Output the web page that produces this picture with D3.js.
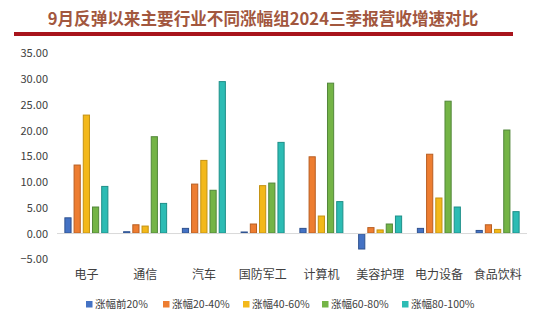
<!DOCTYPE html>
<html><head><meta charset="utf-8">
<script src="https://cdn.jsdelivr.net/npm/d3@7"></script>
<style>body{margin:0;background:#fff}svg{display:block;font-family:"Noto Sans CJK SC","Noto Sans",sans-serif}</style>
</head><body><svg id="c" width="550" height="321"></svg>
<script>
const title = "9月反弹以来主要行业不同涨幅组2024三季报营收增速对比";
const categories = ["电子","通信","汽车","国防军工","计算机","美容护理","电力设备","食品饮料"];
const seriesNames = ["涨幅前20%","涨幅20-40%","涨幅40-60%","涨幅60-80%","涨幅80-100%"];
const s1 = [3.15, 0.45, 1.1, 0.4, 1.1, -3.1, 1.1, 0.7];
const s2 = [13.4, 1.8, 9.7, 1.95, 15.0, 1.25, 15.5, 1.8];
const s3 = [23.1, 1.55, 14.3, 9.4, 3.5, 0.8, 7.0, 0.9];
const s4 = [5.25, 18.9, 8.5, 9.9, 29.3, 1.95, 25.8, 20.2];
const s5 = [9.25, 5.95, 29.6, 17.8, 6.3, 3.5, 5.25, 4.35];
const yTicks = [-5,0,5,10,15,20,25,30,35];
const colors = ["#4472c4","#ed7d31","#f3b81a","#74b446","#2cbcb4"];
const strokes = ["#2f528f","#b85e22","#c49212","#52873a","#1e8f89"];
const seriesVals = [s1,s2,s3,s4,s5];

const svg = d3.select("#c");
svg.append("text").attr("x",263).attr("y",25).attr("text-anchor","middle")
  .attr("font-size",16.6).attr("font-weight","bold").attr("fill","#a2573e").text(title);
svg.append("rect").attr("x",14).attr("y",32).attr("width",499).attr("height",4).attr("fill","#a8141c");

const x = d3.scaleBand().domain(categories).range([57,527]).padding(0);
const xs = d3.scaleBand().domain(d3.range(5)).range([0,44]).paddingInner(0.22);
const y = d3.scaleLinear().domain([-5,35]).range([259.3,53.3]);

const ya = svg.append("g").attr("transform","translate(48,0)")
  .call(d3.axisLeft(y).tickValues(yTicks).tickFormat(d3.format(".2f")).tickSize(0).tickPadding(0));
ya.select(".domain").remove();
ya.selectAll("text").attr("font-size",11).attr("fill","#404040").attr("font-family","\"Noto Sans CJK SC\",sans-serif");

categories.forEach((c,i)=>{
  const g = svg.append("g").attr("transform",`translate(${x(c)+x.bandwidth()/2-22},0)`);
  seriesVals.forEach((vals,k)=>{
    const v = vals[i];
    g.append("rect").attr("x",xs(k)+0.5).attr("y",Math.min(y(v),y(0))+0.5)
      .attr("width",xs.bandwidth()-1).attr("height",Math.max(0,Math.abs(y(v)-y(0))-1))
      .attr("fill",colors[k]).attr("stroke",strokes[k]).attr("stroke-width",1);
  });
});
svg.append("line").attr("x1",57).attr("x2",527).attr("y1",y(0)).attr("y2",y(0))
  .attr("stroke","#d9d9d9").attr("stroke-width",1);

const xa = svg.append("g").attr("transform","translate(0,270)")
  .call(d3.axisBottom(x).tickSize(0).tickPadding(0));
xa.select(".domain").remove();
xa.selectAll("text").attr("font-size",12).attr("fill","#404040").attr("font-family","\"Noto Sans CJK SC\",sans-serif");

const legX = [86,163,243,322,402];
seriesNames.forEach((n,k)=>{
  svg.append("rect").attr("x",legX[k]).attr("y",301).attr("width",6.5).attr("height",6.5).attr("fill",colors[k]);
  svg.append("text").attr("x",legX[k]+9).attr("y",308.3).attr("font-size",10.5).attr("fill","#404040").text(n);
});
</script></body></html>
